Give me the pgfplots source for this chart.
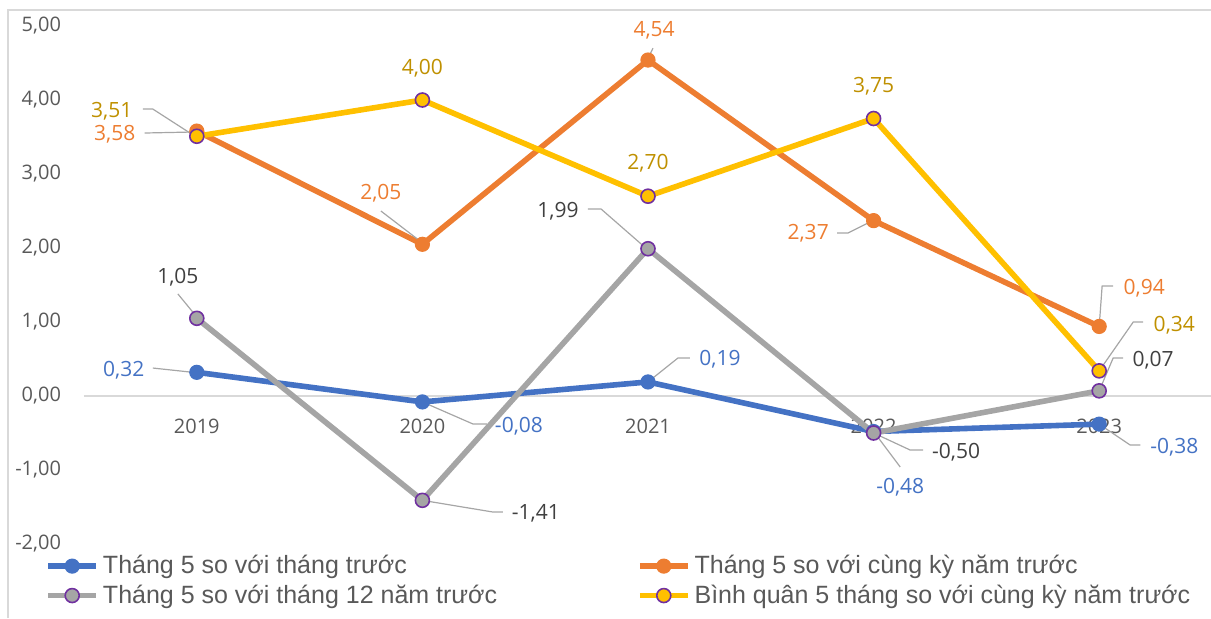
\documentclass[border=0pt]{standalone}
\usepackage{fontspec}
\setmainfont{Open Sans}
\newfontfamily\legendfont{Liberation Sans}
\usepackage{pgfplots}
\pgfplotsset{compat=1.18}
\definecolor{cblue}{HTML}{4472C4}
\definecolor{corange}{HTML}{ED7D31}
\definecolor{cgray}{HTML}{A5A5A5}
\definecolor{cyellow}{HTML}{FFC000}
\definecolor{cpurple}{HTML}{7030A0}
\definecolor{cgold}{HTML}{BF9000}
\definecolor{cdark}{HTML}{404040}
\definecolor{ctick}{HTML}{595959}
\definecolor{cgrid}{HTML}{D9D9D9}
\definecolor{cleader}{HTML}{A6A6A6}
\begin{document}
\begin{tikzpicture}[
  lbl/.style={font=\fontsize{10.5}{12}\selectfont, inner sep=0pt, anchor=center},
  leader/.style={draw=cleader, line width=0.6pt}
]
\begin{axis}[
  scale only axis, width=564pt, height=259pt,
  xmin=-0.5, xmax=4.5, ymin=-2, ymax=5,
  axis x line=middle, axis y line=left,
  x axis line style={-, draw=cgrid, line width=0.9pt},
  y axis line style={draw=none},
  xtick={0,1,2,3,4}, xticklabels={2019,2020,2021,2022,2023},
  ytick={-2,-1,0,1,2,3,4,5},
  yticklabels={{-2,00},{-1,00},{0,00},{1,00},{2,00},{3,00},{4,00},{5,00}},
  major tick length=0pt,
  tick label style={font=\fontsize{10}{12}\selectfont, text=ctick},
  xticklabel style={anchor=north, yshift=-8pt},
  yticklabel style={anchor=east, xshift=-8pt},
  clip=false,
  every axis plot/.append style={line width=2.8pt, line join=round},
  legend columns=2,
  legend cell align=left,
  legend image code/.code={\draw[mark repeat=2,mark phase=2,#1] plot coordinates {(2.5pt,0pt) (14.5pt,0pt) (26.5pt,0pt)};},
  legend style={draw=none, fill=none, inner sep=0pt,
    at={([xshift=-19.5pt,yshift=-3.5pt]axis description cs:0,0)}, anchor=north west,
    font=\legendfont\fontsize{12.5}{14}\selectfont, text=ctick,
    row sep=0pt, column sep=0pt},
]
\addplot[color=cblue, mark=*, mark size=3.5pt, mark options={fill=cblue, draw=cblue, line width=0.6pt}]
  coordinates {(0,0.32) (1,-0.08) (2,0.19) (3,-0.48) (4,-0.38)};
\addlegendentry{\makebox[265pt][l]{Tháng 5 so với tháng trước}}
\addplot[color=corange, mark=*, mark size=3.5pt, mark options={fill=corange, draw=corange, line width=0.6pt}]
  coordinates {(0,3.58) (1,2.05) (2,4.54) (3,2.37) (4,0.94)};
\addlegendentry{Tháng 5 so với cùng kỳ năm trước}
\addplot[color=cgray, mark=*, mark size=3.5pt, mark options={fill=cgray, draw=cpurple, line width=0.8pt}]
  coordinates {(0,1.05) (1,-1.41) (2,1.99) (3,-0.50) (4,0.07)};
\addlegendentry{Tháng 5 so với tháng 12 năm trước}
\addplot[color=cyellow, mark=*, mark size=3.5pt, mark options={fill=cyellow, draw=cpurple, line width=0.8pt}]
  coordinates {(0,3.51) (1,4.00) (2,2.70) (3,3.75) (4,0.34)};
\addlegendentry{Bình quân 5 tháng so với cùng kỳ năm trước}

\coordinate (BL) at (axis description cs:0,0);

% leader lines
\draw[leader] (axis cs:-0.195,0.378) -- (axis cs:-0.018,0.32);
\draw[leader] (axis cs:1,-0.08) -- (axis cs:1.224,-0.378) -- (axis cs:1.286,-0.378);
\draw[leader] (axis cs:2,0.19) -- (axis cs:2.133,0.514) -- (axis cs:2.186,0.514);
\draw[leader] (axis cs:3,-0.48) -- (axis cs:3.118,-0.959);
\draw[leader] (axis cs:4,-0.38) -- (axis cs:4.137,-0.662) -- (axis cs:4.182,-0.662);
\draw[leader] (axis cs:-0.231,3.554) -- (axis cs:-0.009,3.568);
\draw[leader] (axis cs:0.816,2.50) -- (axis cs:1,2.07);
\draw[leader] (axis cs:2.0,4.56) -- (axis cs:2.022,4.70);
\draw[leader] (axis cs:2.838,2.203) -- (axis cs:2.887,2.203) -- (axis cs:2.99,2.36);
\draw[leader] (axis cs:4,0.94) -- (axis cs:4.013,1.486) -- (axis cs:4.062,1.486);
\draw[leader] (axis cs:-0.084,1.38) -- (axis cs:-0.018,1.135);
\draw[leader] (axis cs:1,-1.41) -- (axis cs:1.313,-1.568) -- (axis cs:1.357,-1.568);
\draw[leader] (axis cs:1.734,2.527) -- (axis cs:1.792,2.527) -- (axis cs:1.99,2.0);
\draw[leader] (axis cs:3,-0.50) -- (axis cs:3.162,-0.730) -- (axis cs:3.220,-0.730);
\draw[leader] (axis cs:4,0.07) -- (axis cs:4.062,0.514) -- (axis cs:4.106,0.514);
\draw[leader] (axis cs:-0.239,3.878) -- (axis cs:-0.195,3.878) -- (axis cs:-0.018,3.53);
\draw[leader] (axis cs:4,0.34) -- (axis cs:4.151,1.0) -- (axis cs:4.195,1.0);

% data labels
\node[lbl, text=cblue] at (axis cs:-0.324,0.351) {0,32};
\node[lbl, text=cblue] at (axis cs:1.428,-0.405) {-0,08};
\node[lbl, text=cblue] at (axis cs:2.319,0.50) {0,19};
\node[lbl, text=cblue] at (axis cs:3.118,-1.23) {-0,48};
\node[lbl, text=cblue] at (axis cs:4.333,-0.689) {-0,38};

\node[lbl, text=corange] at (axis cs:-0.364,3.54) {3,58};
\node[lbl, text=corange] at (axis cs:0.816,2.74) {2,05};
\node[lbl, text=corange] at (axis cs:2.027,4.946) {4,54};
\node[lbl, text=corange] at (axis cs:2.710,2.203) {2,37};
\node[lbl, text=corange] at (axis cs:4.2,1.46) {0,94};

\node[lbl, text=cdark] at (axis cs:-0.084,1.608) {1,05};
\node[lbl, text=cdark] at (axis cs:1.503,-1.58) {-1,41};
\node[lbl, text=cdark] at (axis cs:1.601,2.5) {1,99};
\node[lbl, text=cdark] at (axis cs:3.366,-0.757) {-0,50};
\node[lbl, text=cdark] at (axis cs:4.239,0.486) {0,07};

\node[lbl, text=cgold] at (axis cs:-0.377,3.851) {3,51};
\node[lbl, text=cgold] at (axis cs:1,4.43) {4,00};
\node[lbl, text=cgold] at (axis cs:2,3.15) {2,70};
\node[lbl, text=cgold] at (axis cs:3,4.18) {3,75};
\node[lbl, text=cgold] at (axis cs:4.333,0.96) {0,34};
\end{axis}
\draw[cgrid, line width=0.75pt] ([shift={(-38pt,-37pt)}]BL) -- ([shift={(-38pt,267pt)}]BL) -- ([shift={(563.5pt,267pt)}]BL);
\pgfresetboundingbox
\useasboundingbox ([shift={(-42pt,-37pt)}]BL) rectangle ([shift={(563.5pt,272pt)}]BL);
\end{tikzpicture}
\end{document}
